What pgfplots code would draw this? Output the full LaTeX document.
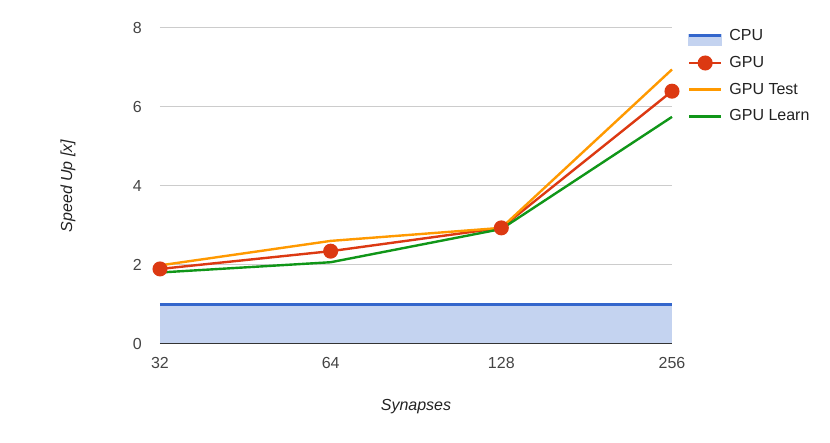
\documentclass[border=0pt]{standalone}
\usepackage{fontspec}
\setmainfont{Liberation Sans}
\usepackage{pgfplots}
\pgfplotsset{compat=1.18}
\definecolor{cpublue}{HTML}{3366CC}
\definecolor{cpufill}{HTML}{C4D3F0}
\definecolor{gpured}{HTML}{DC3912}
\definecolor{gputest}{HTML}{FF9900}
\definecolor{gpulearn}{HTML}{109618}
\definecolor{gridgray}{HTML}{CCCCCC}
\definecolor{ticktext}{HTML}{444444}
\definecolor{titletext}{HTML}{222222}

\begin{document}
\begin{tikzpicture}
\useasboundingbox (-160pt,-99pt) rectangle (670pt,344pt);
\begin{axis}[
  at={(0,0)}, anchor=south west,
  scale only axis, width=512pt, height=316pt,
  xmin=0, xmax=3, ymin=0, ymax=8,
  xtick={0,1,2,3}, xticklabels={32,64,128,256},
  ytick={0,2,4,6,8},
  ymajorgrids, grid style={gridgray, line width=1pt},
  axis line style={draw=none}, tick style={draw=none},
  major tick length=0pt,
  ticklabel style={font=\fontsize{16}{19}\selectfont, text=ticktext},
  /pgf/number format/assume math mode=true,
  yticklabel style={anchor=east, inner sep=0pt, xshift=-18pt},
  xticklabel style={anchor=north, inner sep=0pt, yshift=-13pt},
  xlabel={Synapses}, ylabel={Speed Up [x]},
  label style={font=\fontsize{16}{19}\selectfont\itshape, text=titletext},
  xlabel style={at={(axis description cs:0.5,-0.1994)}, anchor=center},
  ylabel style={at={(axis description cs:-0.1797,0.5)}, anchor=center},
  clip=false,
  legend cell align=left,
  legend style={at={(axis description cs:1.025,1.013)}, anchor=north west,
    draw=none, fill=none, row sep=7.7pt,
    font=\fontsize{16}{19}\selectfont, text=titletext,
    nodes={inner sep=2pt, text height=12pt, text depth=3pt},
    /tikz/every odd column/.append style={column sep=5pt}},
]
% CPU baseline area
\addplot[draw=none, fill=cpufill, forget plot] coordinates {(0,1) (3,1)} \closedcycle;
\addplot[black!80, line width=1pt, forget plot] coordinates {(0,0) (3,0)};
\addplot[cpublue, line width=2.4pt,
  legend image code/.code={
    \fill[cpufill] (0pt,-9pt) rectangle (32pt,0pt);
    \draw[cpublue, line width=2.4pt] (0pt,0pt) -- (32pt,0pt);
  }] coordinates {(0,1) (3,1)};
\addlegendentry{CPU}

\addplot[gpured, line width=2.4pt, mark=*, mark size=6.3pt,
  mark options={fill=gpured, draw=gpured},
  legend image code/.code={
    \draw[gpured, line width=2.4pt] (0pt,0pt) -- (32pt,0pt);
    \fill[gpured] (16pt,0pt) circle (6.3pt);
  }] coordinates {(0,1.90) (1,2.35) (2,2.94) (3,6.40)};
\addlegendentry{GPU}

\addplot[gputest, line width=2.4pt,
  legend image code/.code={\draw[gputest, line width=2.4pt] (0pt,0pt) -- (32pt,0pt);}]
  coordinates {(0,1.99) (1,2.61) (2,2.94) (3,6.95)};
\addlegendentry{GPU Test}

\addplot[gpulearn, line width=2.4pt,
  legend image code/.code={\draw[gpulearn, line width=2.4pt] (0pt,0pt) -- (32pt,0pt);}]
  coordinates {(0,1.81) (1,2.07) (2,2.91) (3,5.75)};
\addlegendentry{GPU Learn}
\end{axis}
\end{tikzpicture}
\end{document}
